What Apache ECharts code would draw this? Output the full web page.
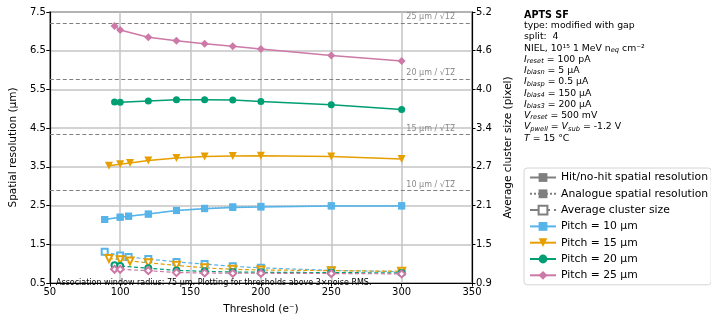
<!DOCTYPE html>
<html><head><meta charset="utf-8">
<script src="https://cdn.jsdelivr.net/npm/echarts@6/dist/echarts.min.js"></script>
<style>html,body{margin:0;padding:0;background:#fff}#c{width:711px;height:320px}</style>
</head><body><div id="c"></div>
<script>
// ---- data ----
const pitches = [10, 15, 20, 25];
const colors = ['#56B4E9', '#E69F00', '#009E73', '#CC79A7'];
const x10 = [89, 100, 106, 120, 140, 160, 180, 200, 250, 300];
const x15 = [92, 100, 107, 120, 140, 160, 180, 200, 250, 300];
const x20 = [96, 100, 120, 140, 160, 180, 200, 250, 300];
const x25 = [96, 100, 120, 140, 160, 180, 200, 250, 300];
const res10 = [2.14, 2.20, 2.225, 2.28, 2.37, 2.42, 2.45, 2.46, 2.487, 2.487];
const res15 = [3.53, 3.565, 3.60, 3.667, 3.73, 3.765, 3.78, 3.785, 3.765, 3.70];
const res20 = [5.175, 5.17, 5.20, 5.233, 5.235, 5.225, 5.19, 5.107, 4.98];
const res25 = [7.136, 7.035, 6.85, 6.757, 6.68, 6.615, 6.547, 6.378, 6.236];
const ana10 = [2.14, 2.20, 2.225, 2.28, 2.375, 2.43, 2.47, 2.48, 2.497, 2.497];
const cls10 = [1.397, 1.335, 1.313, 1.28, 1.235, 1.20, 1.164, 1.14, 1.10, 1.08];
const cls15 = [1.29, 1.27, 1.25, 1.22, 1.18, 1.14, 1.117, 1.107, 1.096, 1.086];
const cls20 = [1.18, 1.17, 1.135, 1.10, 1.085, 1.075, 1.07, 1.065, 1.06];
const cls25 = [1.117, 1.117, 1.096, 1.065, 1.06, 1.055, 1.055, 1.05, 1.045];
const leftTicks = [0.5, 1.5, 2.5, 3.5, 4.5, 5.5, 6.5, 7.5];
const rightMin = 0.9, rightMax = 5.2;
const infoLines = [
  '{b|APTS SF}',
  'type: modified with gap',
  'split:  4',
  'NIEL, 10¹⁵ 1 MeV n{s|eq} cm⁻²',
  '{i|I}{s|reset} = 100 pA',
  '{i|I}{s|biasn} = 5 µA',
  '{i|I}{s|biasp} = 0.5 µA',
  '{i|I}{s|bias4} = 150 µA',
  '{i|I}{s|bias3} = 200 µA',
  '{i|V}{s|reset} = 500 mV',
  '{i|V}{s|pwell} = {i|V}{s|sub} = -1.2 V',
  '{i|T} = 15 °C'
];
const note = 'Association window radius: 75 µm. Plotting for thresholds above 3×noise RMS.';

// ---- build ----
const FONT = 'DejaVu Sans';
const zip = (xs, ys) => xs.map((x, i) => [x, ys[i]]);
const resSets = [[x10, res10], [x15, res15], [x20, res20], [x25, res25]];
const clsSets = [[x10, cls10], [x15, cls15], [x20, cls20], [x25, cls25]];
const syms = ['rect', 'triangle', 'circle', 'diamond'];
const esyms = ['emptyRect', 'emptyTriangle', 'emptyCircle', 'emptyDiamond'];
const rots = [0, 180, 0, 0];
const sizes = [7, 8, 7, 8];
const rightTicks = leftTicks.map((v, i) => rightMin + i * (rightMax - rightMin) / (leftTicks.length - 1));

const series = [];
const gray = '#7f7f7f';
series.push({name: 'Hit/no-hit spatial resolution', type: 'line', data: [], symbol: 'rect', symbolSize: 7,
  itemStyle: {color: gray}, lineStyle: {color: gray, width: 1.5}});
series.push({name: 'Analogue spatial resolution', type: 'line', data: [], symbol: 'rect', symbolSize: 7,
  itemStyle: {color: gray}, lineStyle: {color: gray, width: 1.5, type: 'dotted'}});
series.push({name: 'Average cluster size', type: 'line', data: [], symbol: 'emptyRect', symbolSize: 7,
  itemStyle: {color: gray}, lineStyle: {color: gray, width: 1.2, type: 'dashed'}});

// cluster size (right axis)
clsSets.forEach((s, i) => {
  series.push({name: 'cls' + pitches[i], type: 'line', yAxisIndex: 1, data: zip(s[0], s[1]),
    symbol: esyms[i], symbolRotate: rots[i], symbolSize: sizes[i] - 1, z: 3,
    itemStyle: {color: colors[i], borderWidth: 1}, lineStyle: {color: colors[i], width: 1.2, type: [4, 2.5]}});
});
// analogue (dotted)
series.push({name: 'ana10', type: 'line', data: zip(x10, ana10), symbol: 'rect', symbolSize: 7, z: 4,
  itemStyle: {color: colors[0]}, lineStyle: {color: colors[0], width: 1.2, type: [1.5, 1.5], opacity: 0.8}});
// hit/no-hit (solid)
resSets.forEach((s, i) => {
  series.push({name: 'Pitch = ' + pitches[i] + ' µm', type: 'line', data: zip(s[0], s[1]),
    symbol: syms[i], symbolRotate: rots[i], symbolSize: sizes[i], z: 5,
    itemStyle: {color: colors[i]}, lineStyle: {color: colors[i], width: 1.5}});
});
// pitch/sqrt(12) reference lines
series.push({name: 'ref', type: 'line', data: [], silent: true,
  markLine: {symbol: 'none', silent: true, animation: false,
    lineStyle: {color: '#808080', type: [4, 2.5], width: 1.2},
    label: {position: 'insideEndTop', color: '#8a8a8a', fontFamily: FONT, fontSize: 8, distance: [17, 2]},
    data: pitches.map(p => ({yAxis: p / Math.sqrt(12), label: {formatter: p + ' µm / √1̅2̅'}}))}});

const option = {
  animation: false,
  textStyle: {fontFamily: FONT},
  grid: {left: 47, top: 12, width: 425, height: 277, show: true, borderColor: '#000', borderWidth: 1.2},
  xAxis: {type: 'value', min: 50, max: 350, interval: 50,
    name: 'Threshold (e⁻)', nameLocation: 'middle', nameGap: 21,
    nameTextStyle: {fontSize: 10.5, color: '#000', fontFamily: FONT},
    axisLine: {lineStyle: {color: '#000', width: 1.2}},
    axisTick: {length: 3.5, lineStyle: {color: '#000'}},
    axisLabel: {color: '#000', fontSize: 10, margin: 4, fontFamily: FONT},
    splitLine: {show: true, lineStyle: {color: '#c4c4c4', width: 1.5}}},
  yAxis: [
    {type: 'value', min: leftTicks[0], max: leftTicks[leftTicks.length - 1],
      name: 'Spatial resolution (µm)', nameLocation: 'middle', nameGap: 26,
      nameTextStyle: {fontSize: 10.5, color: '#000', fontFamily: FONT},
      axisLine: {show: true, lineStyle: {color: '#000', width: 1.2}},
      axisTick: {show: true, length: 3.5, customValues: leftTicks, lineStyle: {color: '#000'}},
      axisLabel: {color: '#000', fontSize: 10, margin: 4, fontFamily: FONT, customValues: leftTicks,
        formatter: v => v.toFixed(1)},
      splitLine: {show: false}},
    {type: 'value', min: rightMin, max: rightMax, position: 'right',
      name: 'Average cluster size (pixel)', nameLocation: 'middle', nameGap: 30, nameRotate: 90,
      nameTextStyle: {fontSize: 10.5, color: '#000', fontFamily: FONT},
      axisLine: {show: true, lineStyle: {color: '#000', width: 1.2}},
      axisTick: {show: true, length: 3.5, customValues: rightTicks, lineStyle: {color: '#000'}},
      axisLabel: {color: '#000', fontSize: 10, margin: 4, fontFamily: FONT, customValues: rightTicks,
        formatter: v => v.toFixed(1)},
      splitLine: {show: false}},
    {type: 'value', min: 0, max: leftTicks.length - 1, interval: 1, show: true, position: 'left',
      axisLine: {show: false}, axisTick: {show: false}, axisLabel: {show: false},
      splitLine: {show: true, lineStyle: {color: '#c4c4c4', width: 1.5}}}
  ],
  legend: {orient: 'vertical', left: 524, top: 168,
    data: ['Hit/no-hit spatial resolution', 'Analogue spatial resolution', 'Average cluster size',
      ...pitches.map(p => 'Pitch = ' + p + ' µm')],
    itemWidth: 26, itemHeight: 11, itemGap: 5.3,
    textStyle: {fontSize: 10.8, color: '#000', fontFamily: FONT},
    padding: [4, 3, 4, 5], borderColor: '#d4d4d4', borderWidth: 1, borderRadius: 3},
  graphic: [
    ...infoLines.map((t, i) => ({type: 'text', left: 524, top: 10 + i * 11.25,
      style: {text: t, fontFamily: FONT, fontSize: 9.3, fill: '#000',
        rich: {b: {fontWeight: 'bold', fontSize: 9.6, fontFamily: FONT},
          i: {fontStyle: 'italic', fontSize: 9.3, fontFamily: FONT},
          s: {fontStyle: 'italic', fontSize: 6.7, fontFamily: FONT, padding: [4, 0, 0, 0]}}}})),
    {type: 'text', left: 56, top: 279, z: 100, style: {text: note, fontFamily: FONT, fontSize: 8, fill: '#000'}}
  ],
  series
};
echarts.init(document.getElementById('c'), null, {renderer: 'canvas'}).setOption(option);
</script></body></html>
